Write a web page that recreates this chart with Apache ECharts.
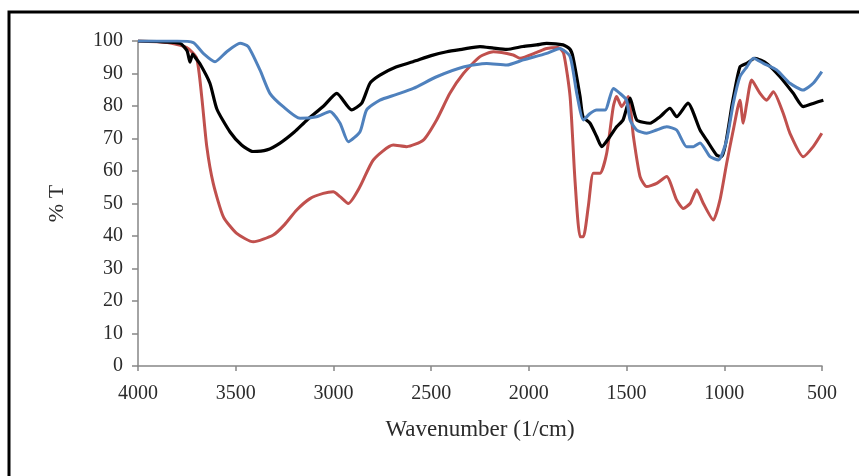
<!DOCTYPE html>
<html>
<head>
<meta charset="utf-8">
<script src="https://cdn.jsdelivr.net/npm/echarts@6/dist/echarts.min.js"></script>
<style>html,body{margin:0;padding:0;background:#fff}#c{width:859px;height:476px}</style>
</head>
<body>
<div id="c"></div>
<script>
// Wavenumber (1/cm) and %T readings for each spectrum
const blackWn = [4000,3887,3785,3749,3734,3720,3708,3683,3632,3596,3529,3470,3412,3340,3273,3200,3135,3050,2983,2907,2855,2813,2762,2680,2593,2500,2420,2337,2250,2180,2113,2030,1960,1909,1825,1790,1774,1738,1723,1687,1653,1627,1585,1551,1518,1482,1448,1380,1329,1278,1244,1186,1124,1090,1039,1013,956,920,885,843,783,715,647,596,545,493];
const blackT  = [100,99.8,99.3,97,93.5,96,95,93,87,79,72,68,66,66.5,68.6,72,75.7,80,83.9,78.8,80.9,87,89.5,92,93.6,95.5,96.7,97.5,98.3,97.8,97.4,98.3,98.8,99.3,98.8,97.5,95,82.9,76.7,74.7,70.6,67.5,70.6,73.6,75.7,82.4,75.7,74.7,76.7,79.3,76.7,80.9,72.6,69.5,64.9,64.4,81.8,92,93.1,94.7,93.1,89,83.9,79.8,80.8,81.8];

const redWn = [4000,3850,3751,3700,3674,3648,3615,3563,3495,3410,3308,3250,3188,3120,3052,3001,2966,2924,2864,2796,2694,2625,2540,2472,2404,2335,2250,2182,2080,2045,1960,1909,1850,1822,1789,1764,1738,1721,1696,1670,1636,1602,1568,1551,1525,1491,1465,1431,1397,1346,1295,1244,1210,1175,1141,1107,1056,1022,988,954,920,903,885,860,817,783,749,698,664,596,545,501];
const redT  = [100,99.5,98,94.7,82.9,67.5,56.2,45.9,40.8,38.2,40.3,43.5,48,51.5,53.1,53.6,52.1,50,55.2,63.4,68,67.5,69.5,75.7,83.9,90,95.2,96.7,95.7,94.7,96.5,97.7,98,96.2,82.9,57.2,39.8,39.8,49,59.3,59.3,65.4,79.8,82.9,79.8,82.9,70.6,58.3,55.2,56.2,58.3,51.1,48.5,50,54.2,50,44.9,51.1,62.3,72.6,81.8,74.7,80.8,88,83.9,81.8,84.4,77.7,71.6,64.4,67.5,71.6];

const blueWn = [4000,3800,3717,3666,3606,3546,3478,3436,3376,3325,3257,3171,3086,3018,2966,2924,2864,2830,2762,2680,2591,2472,2335,2216,2113,2028,1909,1841,1789,1755,1721,1687,1653,1610,1568,1534,1500,1482,1448,1397,1346,1295,1244,1193,1158,1124,1073,1030,988,954,920,885,851,800,732,664,596,545,501];
const blueT  = [100,100,99.5,96.2,93.6,96.7,99.3,98.3,91.1,83.9,79.8,76.2,76.7,78.3,74.7,69,72.1,78.8,81.8,83.5,85.4,89,92,93.1,92.6,94.2,96.2,97.7,95.2,83.9,75.7,77.7,78.8,78.8,85.4,83.9,81.8,75.7,72.6,71.6,72.6,73.6,72.6,67.5,67.5,68.6,64.4,63.4,69.5,80.8,89,92,94.7,93.1,91.1,87,84.9,87,90.6];

const xTicks = [4000,3500,3000,2500,2000,1500,1000,500];
const yTicks = [0,10,20,30,40,50,60,70,80,90,100];

function pairs(a, b) { return a.map((v, i) => [v, b[i]]); }

const chart = echarts.init(document.getElementById('c'), null, {renderer: 'canvas'});
const font = '"Liberation Serif","DejaVu Serif",serif';
const axisGray = '#868686';
const textCol = '#2b2b2b';

chart.setOption({
  animation: false,
  backgroundColor: '#ffffff',
  graphic: [{
    type: 'rect',
    shape: {x: 9, y: 12, width: 900, height: 500},
    style: {fill: 'none', stroke: '#000', lineWidth: 3},
    silent: true
  }],
  grid: {left: 138, right: 37, top: 41, bottom: 110},
  xAxis: {
    type: 'value',
    inverse: true,
    min: 500, max: 4000, interval: 500,
    name: 'Wavenumber (1/cm)',
    nameLocation: 'middle',
    nameGap: 52,
    nameTextStyle: {fontFamily: font, fontSize: 23, color: textCol},
    axisLine: {lineStyle: {color: axisGray, width: 1.5}},
    axisTick: {show: true, length: 5, lineStyle: {color: axisGray, width: 1.5}},
    axisLabel: {fontFamily: font, fontSize: 20, color: textCol, margin: 18,
      formatter: v => xTicks.includes(v) ? String(v) : ''},
    splitLine: {show: false}
  },
  yAxis: {
    type: 'value',
    min: 0, max: 100, interval: 10,
    name: '% T',
    nameLocation: 'middle',
    nameGap: 70,
    nameRotate: 90,
    nameTextStyle: {fontFamily: font, fontSize: 22, color: textCol},
    axisLine: {show: true, lineStyle: {color: axisGray, width: 1.5}},
    axisTick: {show: true, length: 6, lineStyle: {color: axisGray, width: 1.5}},
    axisLabel: {fontFamily: font, fontSize: 20, color: textCol, margin: 15,
      formatter: v => yTicks.includes(v) ? String(v) : ''},
    splitLine: {show: false}
  },
  series: [
    {name: 'red', type: 'line', data: pairs(redWn, redT), showSymbol: false, smooth: 0.2,
      lineStyle: {color: '#c0504d', width: 3}, z: 2},
    {name: 'black', type: 'line', data: pairs(blackWn, blackT), showSymbol: false, smooth: 0.2,
      lineStyle: {color: '#000000', width: 3.2}, z: 3},
    {name: 'blue', type: 'line', data: pairs(blueWn, blueT), showSymbol: false, smooth: 0.2,
      lineStyle: {color: '#4f81bd', width: 3}, z: 4}
  ]
});
</script>
</body>
</html>
